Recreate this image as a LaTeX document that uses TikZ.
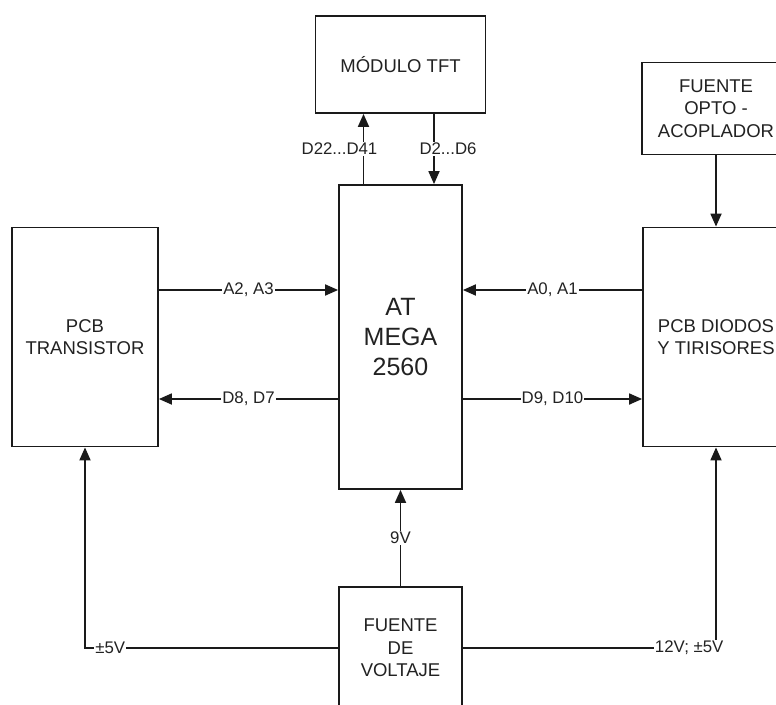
\documentclass[tikz,border=0pt]{standalone}
\usepackage{fontspec}
\setmainfont{Liberation Sans}
\usepackage{xcolor}
\usepackage{tikz}
\usetikzlibrary{arrows.meta,positioning}
\definecolor{linec}{HTML}{1A1A1A}
\definecolor{textc}{HTML}{222222}

\begin{document}
\begin{tikzpicture}[
  x=1pt,y=-1pt,
  box/.style={draw=linec,line width=1.8pt,fill=white,align=center,inner sep=0pt,
              text=textc,font=\fontsize{18.5}{22.5}\selectfont},
  lbl/.style={fill=white,inner sep=1pt,text=textc,font=\fontsize{16.8}{19}\selectfont},
  ar/.style={-{Triangle[length=13pt,width=11pt]},line width=1.8pt,draw=linec},
]
\useasboundingbox[fill=white] (0,0) rectangle (776,704);

\node[box,minimum width=123pt,minimum height=304pt,
      font=\fontsize{25}{30}\selectfont] (mega) at (400.5,337) {AT\\ MEGA\\ 2560};
\node[box,minimum width=170pt,minimum height=97pt,above=70.2pt of mega] (tft) {MÓDULO TFT};
\node[box,minimum width=146pt,minimum height=219pt,left=179.2pt of mega] (trans) {PCB\\ TRANSISTOR};
\node[box,minimum width=146pt,minimum height=219pt,right=179.2pt of mega] (diodos) {PCB DIODOS\\ Y TIRISORES};
\node[box,minimum width=148pt,minimum height=92pt,above=71.2pt of diodos] (opto) {FUENTE\\ OPTO -\\ ACOPLADOR};
\node[box,minimum width=123pt,minimum height=122pt,below=96.2pt of mega] (volt) {FUENTE\\ DE\\ VOLTAJE};

% bus to the display
\draw[ar] ([xshift=-37pt]mega.north) -- ([xshift=-37pt]mega.north |- tft.south)
  node[lbl,midway,xshift=-24pt] {D22...D41};
\draw[ar] ([xshift=33.5pt]tft.south) -- ([xshift=33.5pt]tft.south |- mega.north)
  node[lbl,midway,xshift=14pt] {D2...D6};

% signals to the boards
\draw[ar] ([yshift=47pt]mega.west -| trans.east) -- ([yshift=47pt]mega.west)
  node[lbl,midway] {A2, A3};
\draw[ar] ([yshift=-62pt]mega.west) -- ([yshift=-62pt]mega.west -| trans.east)
  node[lbl,midway] {D8, D7};
\draw[ar] ([yshift=47pt]mega.east -| diodos.west) -- ([yshift=47pt]mega.east)
  node[lbl,midway] {A0, A1};
\draw[ar] ([yshift=-62pt]mega.east) -- ([yshift=-62pt]mega.east -| diodos.west)
  node[lbl,midway] {D9, D10};
\draw[ar] (opto) -- (diodos);

% supply
\draw[ar] (volt) -- (mega) node[lbl,midway] {9V};
\draw[ar] (volt.west) -| (trans.south) node[lbl,pos=0.45] {±5V};
\draw[ar] (volt.east) -| (diodos.south) node[lbl,pos=0.447] {12V; ±5V};
\end{tikzpicture}
\end{document}
